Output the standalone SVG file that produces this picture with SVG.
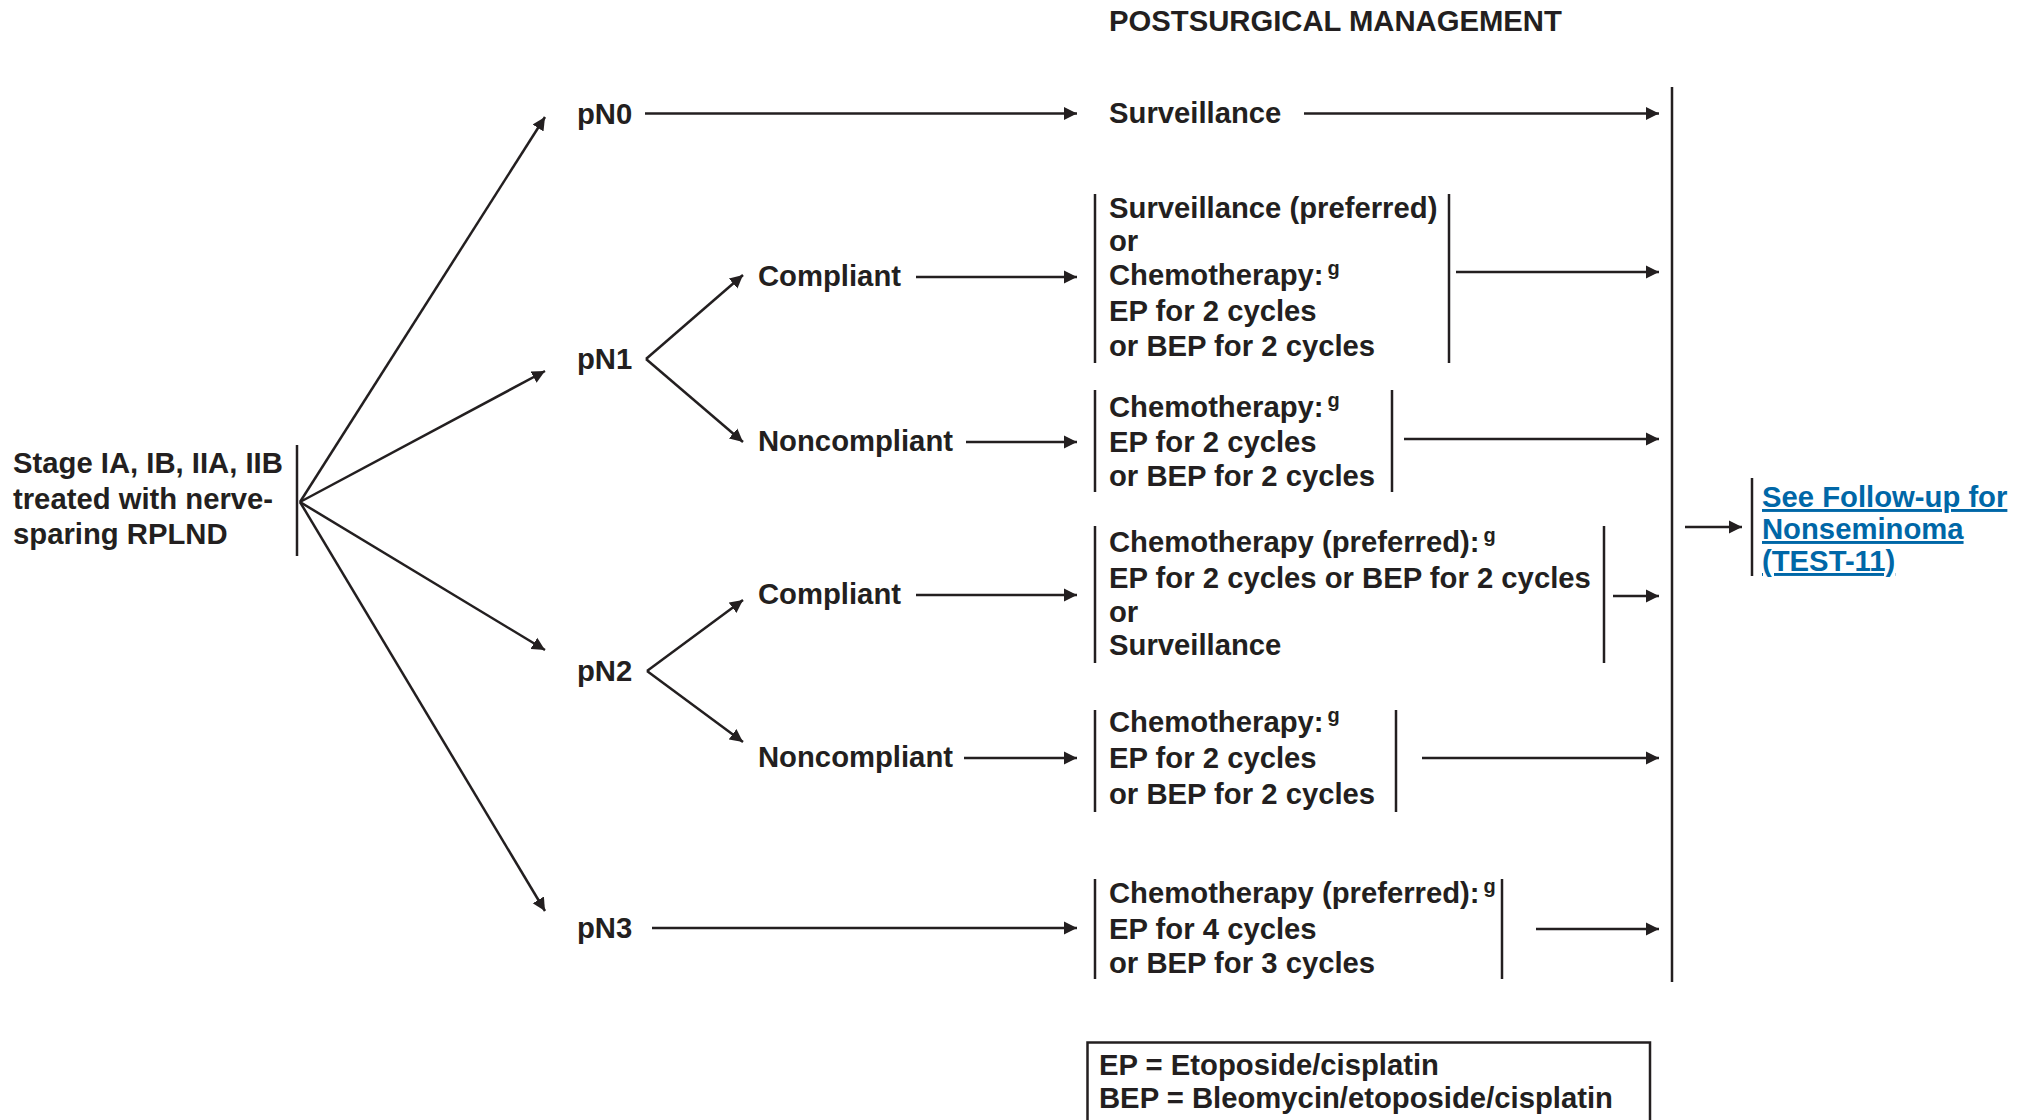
<svg xmlns="http://www.w3.org/2000/svg" width="2018" height="1120" viewBox="0 0 2018 1120">
<style>
text { font-family: "Liberation Sans", Arial, Helvetica, sans-serif; font-weight: bold; font-size: 29.25px; fill: #231f20; }
.sup { font-size: 20px; font-weight: bold; }
.link { fill: #0067a7; text-decoration: underline; }
.bar { stroke: #231f20; stroke-width: 2.5; fill: none; }
.conn line { stroke: #231f20; stroke-width: 2.5; fill: none; marker-end: url(#ah); }
.legend { fill: none; stroke: #231f20; stroke-width: 2.5; }
</style>
<defs>
<marker id="ah" markerUnits="userSpaceOnUse" markerWidth="14" markerHeight="14" refX="13" refY="6.5" orient="auto" viewBox="0 0 14 13">
<path d="M0,0 L13,6.5 L0,13 z" fill="#231f20"/>
</marker>
</defs>
<rect width="2018" height="1120" fill="#ffffff"/>

<g id="title">
<text x="1109" y="31">POSTSURGICAL MANAGEMENT</text>
</g>

<g id="stage">
<text x="13" y="473">Stage IA, IB, IIA, IIB</text>
<text x="13" y="509">treated with nerve-</text>
<text x="13" y="544">sparing RPLND</text>
<line class="bar" x1="297" y1="445" x2="297" y2="556"/>
</g>

<g id="pN0"><text x="577" y="124">pN0</text></g>
<g id="pN1"><text x="577" y="369">pN1</text></g>
<g id="pN2"><text x="577" y="681">pN2</text></g>
<g id="pN3"><text x="577" y="938">pN3</text></g>

<g id="pN1-compliant"><text x="758" y="286">Compliant</text></g>
<g id="pN1-noncompliant"><text x="758" y="451">Noncompliant</text></g>
<g id="pN2-compliant"><text x="758" y="604">Compliant</text></g>
<g id="pN2-noncompliant"><text x="758" y="767">Noncompliant</text></g>

<g id="surveillance"><text x="1109" y="123">Surveillance</text></g>

<g id="box1">
<line class="bar" x1="1095" y1="194" x2="1095" y2="363"/>
<text x="1109" y="218">Surveillance (preferred)</text>
<text x="1109" y="251">or</text>
<text x="1109" y="285">Chemotherapy:<tspan class="sup" dx="4" dy="-10">g</tspan></text>
<text x="1109" y="321">EP for 2 cycles</text>
<text x="1109" y="356">or BEP for 2 cycles</text>
<line class="bar" x1="1449" y1="194" x2="1449" y2="363"/>
</g>

<g id="box2">
<line class="bar" x1="1095" y1="390" x2="1095" y2="492"/>
<text x="1109" y="417">Chemotherapy:<tspan class="sup" dx="4" dy="-10">g</tspan></text>
<text x="1109" y="452">EP for 2 cycles</text>
<text x="1109" y="486">or BEP for 2 cycles</text>
<line class="bar" x1="1392" y1="390" x2="1392" y2="492"/>
</g>

<g id="box3">
<line class="bar" x1="1095" y1="526" x2="1095" y2="663"/>
<text x="1109" y="552">Chemotherapy (preferred):<tspan class="sup" dx="4" dy="-10">g</tspan></text>
<text x="1109" y="588">EP for 2 cycles or BEP for 2 cycles</text>
<text x="1109" y="622">or</text>
<text x="1109" y="655">Surveillance</text>
<line class="bar" x1="1604" y1="526" x2="1604" y2="663"/>
</g>

<g id="box4">
<line class="bar" x1="1095" y1="710" x2="1095" y2="812"/>
<text x="1109" y="732">Chemotherapy:<tspan class="sup" dx="4" dy="-10">g</tspan></text>
<text x="1109" y="768">EP for 2 cycles</text>
<text x="1109" y="804">or BEP for 2 cycles</text>
<line class="bar" x1="1396" y1="710" x2="1396" y2="812"/>
</g>

<g id="box5">
<line class="bar" x1="1095" y1="879" x2="1095" y2="979"/>
<text x="1109" y="903">Chemotherapy (preferred):<tspan class="sup" dx="4" dy="-10">g</tspan></text>
<text x="1109" y="939">EP for 4 cycles</text>
<text x="1109" y="973">or BEP for 3 cycles</text>
<line class="bar" x1="1502" y1="879" x2="1502" y2="979"/>
</g>

<g id="merge">
<line class="bar" x1="1672" y1="87" x2="1672" y2="982"/>
</g>

<g id="followup">
<line class="bar" x1="1752" y1="478" x2="1752" y2="576"/>
<text class="link" x="1762" y="507">See Follow-up for</text>
<text class="link" x="1762" y="539">Nonseminoma</text>
<text class="link" x="1762" y="571">(TEST-11)</text>
</g>

<g id="legend">
<rect class="legend" x="1087.5" y="1042.5" width="562.5" height="100"/>
<text x="1099" y="1075">EP = Etoposide/cisplatin</text>
<text x="1099" y="1108">BEP = Bleomycin/etoposide/cisplatin</text>
</g>

<g id="connectors" class="conn">
<line x1="300" y1="502" x2="545" y2="117"/>
<line x1="300" y1="502" x2="545" y2="371"/>
<line x1="300" y1="502" x2="545" y2="650"/>
<line x1="300" y1="502" x2="545" y2="911"/>
<line x1="646" y1="359" x2="743" y2="275"/>
<line x1="646" y1="359" x2="743" y2="442"/>
<line x1="647" y1="671" x2="743" y2="600"/>
<line x1="647" y1="671" x2="743" y2="742"/>
<line x1="645" y1="113.5" x2="1077" y2="113.5"/>
<line x1="1304" y1="113.5" x2="1659" y2="113.5"/>
<line x1="916" y1="277" x2="1077" y2="277"/>
<line x1="1456" y1="272" x2="1659" y2="272"/>
<line x1="966" y1="442" x2="1077" y2="442"/>
<line x1="1404" y1="439" x2="1659" y2="439"/>
<line x1="916" y1="595" x2="1077" y2="595"/>
<line x1="1613" y1="596" x2="1659" y2="596"/>
<line x1="964" y1="758" x2="1077" y2="758"/>
<line x1="1422" y1="758" x2="1659" y2="758"/>
<line x1="652" y1="928" x2="1077" y2="928"/>
<line x1="1536" y1="929" x2="1659" y2="929"/>
<line x1="1685" y1="527" x2="1742" y2="527"/>
</g>
</svg>
